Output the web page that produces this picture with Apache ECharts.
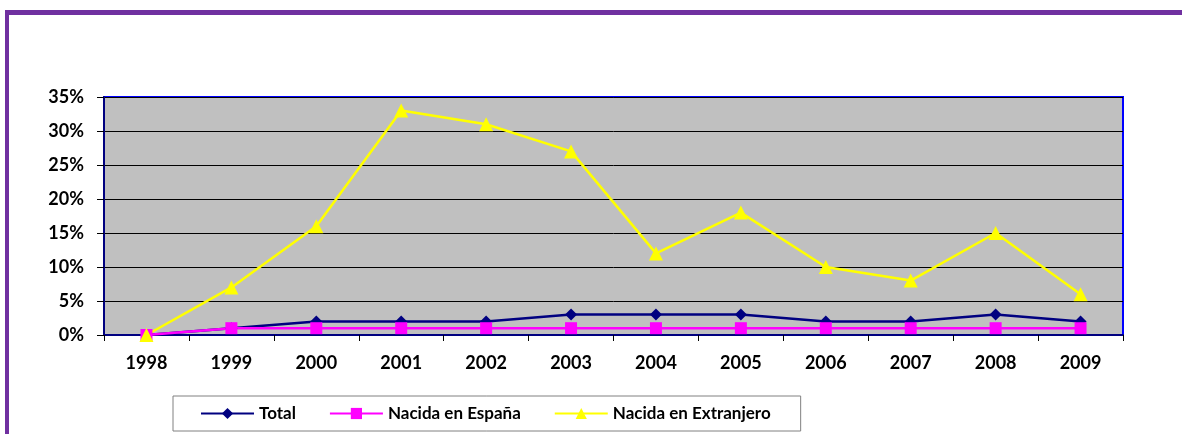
<!DOCTYPE html>
<html>
<head>
<meta charset="utf-8">
<script src="https://cdn.jsdelivr.net/npm/echarts@6/dist/echarts.min.js"></script>
<style>
  html, body { margin: 0; padding: 0; background: #fff; }
  #frame {
    position: absolute; left: 5px; top: 10px; width: 1177px; height: 424px;
    border-top: 5px solid #7030a0; border-left: 4px solid #7030a0;
    box-sizing: border-box;
  }
  #main { position: absolute; left: 0; top: 0; width: 1182px; height: 434px; }
</style>
</head>
<body>
<div id="frame"></div>
<div id="main"></div>
<script>
// years on the x axis
var years = ['1998', '1999', '2000', '2001', '2002', '2003', '2004', '2005', '2006', '2007', '2008', '2009'];
// percent values
var total      = [0, 1, 2, 2, 2, 3, 3, 3, 2, 2, 3, 2];
var espana     = [0, 1, 1, 1, 1, 1, 1, 1, 1, 1, 1, 1];
var extranjero = [0, 7, 16, 33, 31, 27, 12, 18, 10, 8, 15, 6];

var font = 'Lato, "Open Sans", sans-serif';
var chart = echarts.init(document.getElementById('main'));

chart.setOption({
  animation: false,
  grid: {
    left: 104, top: 97, right: 59, bottom: 99,
    show: true, backgroundColor: '#c0c0c0',
    borderColor: '#0000ff', borderWidth: 2
  },
  legend: {
    left: 173, top: 396,
    padding: [9, 30, 9, 27],
    itemGap: 33, itemWidth: 53, itemHeight: 14,
    borderColor: '#808080', borderWidth: 1, backgroundColor: '#fff',
    textStyle: { fontFamily: font, fontWeight: 'bold', fontSize: 17, color: '#000' },
    data: ['Total', 'Nacida en España', 'Nacida en Extranjero']
  },
  xAxis: {
    type: 'category', data: years, boundaryGap: true,
    axisLine: { lineStyle: { color: '#000080', width: 2 } },
    axisTick: { show: true, length: 6, lineStyle: { color: '#000' } },
    axisLabel: { margin: 19, fontFamily: font, fontWeight: 'bold', fontSize: 18, color: '#000' }
  },
  yAxis: {
    type: 'value', min: 0, max: 35, interval: 5,
    axisLine: { show: true, lineStyle: { color: '#000080', width: 2 } },
    axisTick: { show: true, length: 7, lineStyle: { color: '#000' } },
    splitLine: { lineStyle: { color: '#000', width: 1 } },
    axisLabel: { margin: 20, formatter: '{value}%', fontFamily: font, fontWeight: 'bold', fontSize: 18, color: '#000' }
  },
  series: [
    {
      name: 'Total', type: 'line', data: total,
      symbol: 'diamond', symbolSize: 12, showAllSymbol: true,
      itemStyle: { color: '#000080' },
      lineStyle: { color: '#000080', width: 2.5 }
    },
    {
      name: 'Nacida en España', type: 'line', data: espana,
      symbol: 'rect', symbolSize: 12, showAllSymbol: true,
      itemStyle: { color: '#ff00ff' },
      lineStyle: { color: '#ff00ff', width: 2.5 }
    },
    {
      name: 'Nacida en Extranjero', type: 'line', data: extranjero,
      symbol: 'triangle', symbolSize: 14, showAllSymbol: true,
      itemStyle: { color: '#ffff00' },
      lineStyle: { color: '#ffff00', width: 2.5 }
    }
  ]
});
</script>
</body>
</html>
